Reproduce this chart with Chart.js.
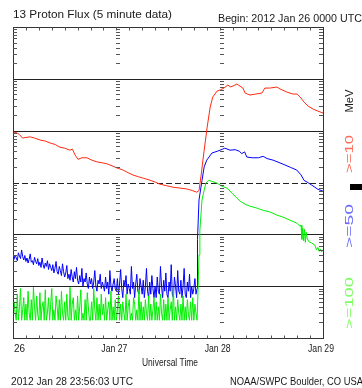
<!DOCTYPE html>
<html>
<head>
<meta charset="utf-8">
<script src="https://cdn.jsdelivr.net/npm/chart.js@4.4.1/dist/chart.umd.min.js"></script>
<style>
  html, body { margin: 0; padding: 0; background: #fff; }
</style>
</head>
<body>
<canvas id="chart" width="362" height="388"></canvas>
<script>
// ==================== DATOS ====================
// horas desde 2012 Jan 26 0000 UTC, flujo en pfu

// periodo tranquilo (muestras cada 15 minutos)
const quietStep = 0.25;

const blueQuiet = [
    0.36, 0.33, 0.40, 0.35, 0.31, 0.44, 0.38, 0.34, 0.50, 0.37, 0.32, 0.39,
    0.30, 0.35, 0.28, 0.33, 0.42, 0.29, 0.31, 0.26, 0.36, 0.30, 0.27, 0.34,
    0.25, 0.29, 0.23, 0.35, 0.26, 0.22, 0.28, 0.24, 0.31, 0.21, 0.27, 0.23,
    0.20, 0.26, 0.18, 0.22, 0.30, 0.19, 0.17, 0.24, 0.20, 0.16, 0.27, 0.19,
    0.15, 0.18, 0.25, 0.14, 0.17, 0.13, 0.21, 0.15, 0.12, 0.19, 0.14, 0.23,
    0.13, 0.11, 0.16, 0.12, 0.22, 0.10, 0.14, 0.12, 0.18, 0.11, 0.09, 0.15,
    0.11, 0.14, 0.09, 0.12, 0.20, 0.10, 0.08, 0.13, 0.11, 0.17, 0.09, 0.12,
    0.10, 0.08, 0.15, 0.09, 0.12, 0.07, 0.20, 0.10, 0.08, 0.11, 0.14, 0.09,
    0.08, 0.14, 0.07, 0.11, 0.21, 0.09, 0.06, 0.13, 0.10, 0.16, 0.07, 0.11,
    0.09, 0.07, 0.24, 0.09, 0.12, 0.06, 0.11, 0.17, 0.08, 0.07, 0.14, 0.10,
    0.07, 0.13, 0.06, 0.10, 0.22, 0.08, 0.06, 0.12, 0.07, 0.16, 0.09, 0.06,
    0.10, 0.06, 0.15, 0.08, 0.07, 0.24, 0.10, 0.06, 0.13, 0.08, 0.18, 0.07,
    0.06, 0.12, 0.08, 0.26, 0.07, 0.06, 0.15, 0.10, 0.06, 0.20, 0.08, 0.07,
    0.13, 0.06, 0.10, 0.22, 0.07, 0.06, 0.12, 0.08, 0.17, 0.06, 0.10, 0.07,
    0.09, 0.14, 0.07, 0.09
];

const greenQuiet = [
    0.022, 0.05, 0.03, 0.022, 0.07, 0.022, 0.04, 0.09, 0.022, 0.035, 0.06, 0.022,
    0.045, 0.022, 0.08, 0.03, 0.022, 0.055, 0.022, 0.095, 0.04, 0.022, 0.065, 0.028,
    0.022, 0.075, 0.022, 0.04, 0.05, 0.022, 0.085, 0.022, 0.03, 0.06, 0.022, 0.045,
    0.09, 0.022, 0.035, 0.022, 0.065, 0.04, 0.022, 0.055, 0.022, 0.08, 0.03, 0.022,
    0.05, 0.022, 0.07, 0.025, 0.022, 0.095, 0.022, 0.045, 0.06, 0.022, 0.035, 0.022,
    0.065, 0.022, 0.04, 0.085, 0.022, 0.03, 0.022, 0.055, 0.022, 0.075, 0.04, 0.022,
    0.022, 0.05, 0.022, 0.09, 0.035, 0.022, 0.06, 0.022, 0.045, 0.022, 0.07, 0.028,
    0.045, 0.022, 0.06, 0.022, 0.035, 0.05, 0.022, 0.08, 0.022, 0.04, 0.022, 0.055,
    0.022, 0.035, 0.065, 0.022, 0.045, 0.022, 0.05, 0.03, 0.022, 0.07, 0.022, 0.04,
    0.055, 0.022, 0.03, 0.022, 0.06, 0.045, 0.022, 0.035, 0.022, 0.085, 0.022, 0.05,
    0.022, 0.04, 0.022, 0.055, 0.03, 0.022, 0.065, 0.022, 0.045, 0.022, 0.035, 0.06,
    0.022, 0.05, 0.022, 0.04, 0.022, 0.07, 0.03, 0.022, 0.055, 0.022, 0.045, 0.022,
    0.06, 0.022, 0.035, 0.05, 0.022, 0.09, 0.022, 0.04, 0.022, 0.055, 0.03, 0.022,
    0.045, 0.022, 0.065, 0.022, 0.04, 0.022, 0.055, 0.028, 0.022, 0.05, 0.022, 0.06,
    0.022, 0.045, 0.03, 0.022
];

// >=10 MeV
const redHours = [
    0, 0.8, 1.5, 2.2, 3, 4, 5, 6.3, 7.5, 8.6, 9.8, 10.9, 12, 13.2, 13.8, 14.4,
    15.1, 16, 17.2, 18.3, 19.5, 20.7, 21.8, 23, 24.2, 25.5, 26.7, 27.9, 29, 30.4,
    31.8, 33, 34.1, 35.6, 37.2, 38.8, 40.4, 41.6, 42.7, 43.2, 43.7, 44.4, 45.1,
    45.8, 46.4, 47.4, 48.1, 49.0, 49.9, 50.5, 51.1, 52.0, 52.7, 53.4, 53.9, 55.0,
    56.4, 57.8, 58.5, 59.7, 61.3, 62.0, 63.6, 65.0, 66.0, 66.7, 67.6, 68.5, 69.7,
    70.8, 72
];
const redFlux = [
    94, 92, 84, 72, 74, 76, 72, 66, 63, 58, 54, 48, 46, 42, 44, 34,
    28, 30, 30, 27, 25, 24, 23, 21, 19, 17.5, 15.5, 13.9, 13, 12,
    11.1, 10.2, 9.3, 8.7, 8.1, 7.8, 7.5, 7.0, 6.5, 7, 14, 42, 117,
    286, 446, 581, 608, 664, 759, 700, 726, 794, 726, 664, 532, 487,
    509, 532, 664, 664, 695, 640, 556, 509, 509, 446, 356, 299, 261,
    239, 219
];

// >=50 MeV, evento
const blueEventHours = [
    42.75, 42.95, 43.2, 43.9, 44.4, 45.0, 46.2, 47.4, 48.1, 49.2, 50.4, 51.6,
    52.6, 53.1, 53.8, 54.3, 55.5, 57.0, 58.1, 59.0, 60.4, 62.5, 64.5, 65.9,
    66.9, 67.6, 68.3, 69.4, 70.8, 72
];
const blueEventFlux = [
    0.09, 0.8, 4.6, 11, 20, 27, 37, 40, 42, 46, 42, 43,
    40, 36, 39, 31, 30, 30, 32, 29, 27, 23, 19.5, 17.4,
    14, 11, 10.2, 8.9, 7.4, 6.8
];

// >=100 MeV, evento
const greenEventHours = [
    42.75, 43.0, 43.2, 43.4, 43.9, 44.4, 44.8, 45.5, 46.2, 47.4, 48.5, 49.7,
    50.9, 52.0, 52.7, 53.9, 55.0, 56.7, 58.1, 59.7, 61.3, 62.7, 64.3, 65.95,
    66.65, 66.9, 67.1, 67.3, 67.5, 67.7, 67.9, 68.1, 68.3, 68.7, 69.4, 70.1,
    70.5, 70.8, 71.1, 71.4, 71.7, 72
];
const greenEventFlux = [
    0.022, 0.095, 0.4, 1.2, 4.6, 7.1, 9.7, 11, 10.5, 9.7, 8.5, 7.8,
    6.2, 5.0, 4.4, 3.8, 3.5, 3.2, 2.9, 2.7, 2.35, 2.15, 1.88, 1.64,
    1.44, 1.5, 0.8, 1.3, 0.75, 1.25, 0.7, 1.1, 0.85, 0.72, 0.68, 0.62,
    0.5, 0.56, 0.47, 0.52, 0.46, 0.5
];

// ejes
const dayHours = [0, 24, 48, 72];
const dayLabels = ['26', 'Jan 27', 'Jan 28', 'Jan 29'];
const decadeLines = [0.1, 1, 10, 100, 1000];
const thresholdFlux = 10;

// ==================== SERIES ====================
function quietPoints(values) {
    return values.map((v, i) => ({ x: i * quietStep, y: v }));
}

function toPoints(hours, values) {
    return hours.map((h, i) => ({ x: h, y: values[i] }));
}

const redPoints = toPoints(redHours, redFlux);
const bluePoints = quietPoints(blueQuiet).concat(toPoints(blueEventHours, blueEventFlux));
const greenPoints = quietPoints(greenQuiet).concat(toPoints(greenEventHours, greenEventFlux));

// ==================== TEXTO ====================
const FONT = '11px "Liberation Sans", Arial, sans-serif';

// dibuja texto ajustado a un ancho dado
function fitText(ctx, text, x, y, width, align, color, angle) {
    ctx.save();
    ctx.font = FONT;
    ctx.fillStyle = color || '#1a1a1a';
    ctx.textBaseline = 'alphabetic';
    const w = ctx.measureText(text).width;
    const sx = width / w;
    ctx.translate(x, y);
    if (angle) ctx.rotate(angle);
    ctx.scale(sx, 1);
    let dx = 0;
    if (align === 'center') dx = -w / 2;
    if (align === 'right') dx = -w;
    ctx.fillText(text, dx, 0);
    ctx.restore();
}

// ==================== MARCO ====================
const goesFrame = {
    id: 'goesFrame',

    beforeDatasetsDraw(chart) {
        const { ctx, chartArea: a, scales: { y } } = chart;
        ctx.save();
        ctx.strokeStyle = '#222';
        ctx.lineWidth = 1;
        decadeLines.forEach(v => {
            const py = Math.round(y.getPixelForValue(v)) + 0.5;
            ctx.setLineDash(v === thresholdFlux ? [6, 3] : []);
            ctx.beginPath();
            ctx.moveTo(a.left, py);
            ctx.lineTo(a.right, py);
            ctx.stroke();
        });
        ctx.restore();
    },

    afterDatasetsDraw(chart) {
        const { ctx, chartArea: a, scales: { x, y } } = chart;
        const left = Math.round(a.left) + 0.5;
        const right = Math.round(a.right) + 0.5;
        const top = Math.round(a.top) + 0.5;
        const bottom = Math.round(a.bottom) + 0.5;

        ctx.save();
        ctx.strokeStyle = '#333';
        ctx.lineWidth = 1;
        ctx.strokeRect(left, top, right - left, bottom - top);

        // ticks log menores en bordes y cambios de dia
        ctx.strokeStyle = '#555';
        ctx.beginPath();
        for (let e = -2; e < 4; e++) {
            for (let m = 2; m <= 9; m++) {
                const py = Math.round(y.getPixelForValue(m * Math.pow(10, e))) + 0.5;
                dayHours.forEach(h => {
                    const px = Math.round(x.getPixelForValue(h));
                    if (h === dayHours[dayHours.length - 1]) {
                        ctx.moveTo(px - 4, py);
                        ctx.lineTo(px, py);
                    } else {
                        ctx.moveTo(px, py);
                        ctx.lineTo(px + 4, py);
                    }
                });
            }
        }
        // ticks de tiempo cada 3 horas
        for (let h = 3; h < 72; h += 3) {
            const px = Math.round(x.getPixelForValue(h)) + 0.5;
            ctx.moveTo(px, top);
            ctx.lineTo(px, top + 3);
            ctx.moveTo(px, bottom);
            ctx.lineTo(px, bottom - 3);
        }
        ctx.stroke();
        ctx.restore();

        // textos
        fitText(ctx, '13 Proton Flux (5 minute data)', 13, 18, 159, 'left');
        fitText(ctx, 'Begin: 2012 Jan 26 0000 UTC', 218, 21.5, 144, 'left');

        dayHours.forEach((h, i) => {
            const px = x.getPixelForValue(h);
            if (i === 0) {
                fitText(ctx, dayLabels[i], px + 1, 351.5, 11, 'left');
            } else {
                fitText(ctx, dayLabels[i], px - 2, 351.5, 26, 'center');
            }
        });
        fitText(ctx, 'Universal Time', 170, 366, 56, 'center');
        fitText(ctx, '2012 Jan 28 23:56:03 UTC', 11, 385, 122, 'left');
        fitText(ctx, 'NOAA/SWPC Boulder, CO USA', 230, 385, 133, 'left');

        // etiquetas de canal a la derecha
        const lx = 353;
        fitText(ctx, 'MeV', lx, 101, 23, 'center', '#1a1a1a', -Math.PI / 2);
        fitText(ctx, '>=10', lx, 154, 38, 'center', '#ff6a58', -Math.PI / 2);
        fitText(ctx, '>=50', lx, 226, 44, 'center', '#6a6aff', -Math.PI / 2);
        fitText(ctx, '>=100', lx, 303, 52, 'center', '#7cff60', -Math.PI / 2);

        ctx.save();
        ctx.fillStyle = '#000';
        ctx.fillRect(350, 184, 12, 6);
        ctx.restore();
    }
};

// ==================== CHART ====================
const ctx = document.getElementById('chart').getContext('2d');

new Chart(ctx, {
    type: 'line',
    data: {
        datasets: [
            {
                label: '>=100 MeV',
                data: greenPoints,
                borderColor: '#00f000',
                borderWidth: 1,
                pointRadius: 0,
                tension: 0
            },
            {
                label: '>=50 MeV',
                data: bluePoints,
                borderColor: '#0000ff',
                borderWidth: 1,
                pointRadius: 0,
                tension: 0
            },
            {
                label: '>=10 MeV',
                data: redPoints,
                borderColor: '#ff2a10',
                borderWidth: 1,
                pointRadius: 0,
                tension: 0
            }
        ]
    },
    options: {
        responsive: false,
        animation: false,
        layout: {
            padding: { left: 13, top: 27, right: 39, bottom: 50 }
        },
        plugins: {
            legend: { display: false },
            tooltip: { enabled: false }
        },
        scales: {
            x: { type: 'linear', min: 0, max: 72, display: false },
            y: { type: 'logarithmic', min: 0.01, max: 10000, display: false }
        }
    },
    plugins: [goesFrame]
});
</script>
</body>
</html>
